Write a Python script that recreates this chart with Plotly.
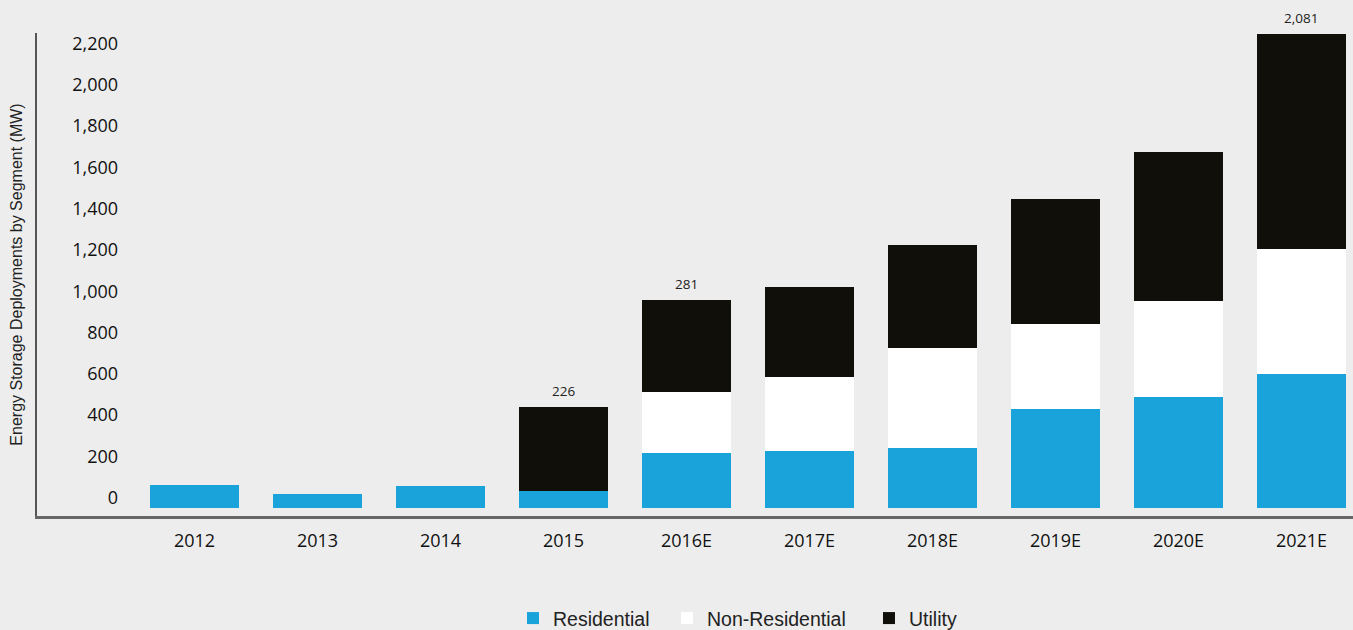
import plotly.graph_objects as go

years = ["2012", "2013", "2014", "2015", "2016E", "2017E", "2018E", "2019E", "2020E", "2021E"]
residential = [110, 65, 103, 79, 263, 273, 288, 477, 535, 646]
non_residential = [0, 0, 0, 0, 296, 359, 485, 412, 466, 607]
utility = [0, 0, 0, 409, 446, 436, 499, 606, 722, 1042]
label_years = ["2015", "2016E", "2021E"]
label_texts = ["226", "281", "2,081"]
y_ticks = list(range(0, 2201, 200))
y_tick_text = [f"{v:,}" for v in y_ticks]

BLUE = "#19a3da"
WHITE = "#ffffff"
BLACK = "#110f0a"
BG = "#ededed"

fig = go.Figure()
fig.add_trace(go.Bar(name="Residential", x=years, y=residential, marker_color=BLUE,
                     marker_line_width=0, legend="legend"))
fig.add_trace(go.Bar(name="Non-Residential", x=years, y=non_residential, marker_color=WHITE,
                     marker_line_width=0, legend="legend2"))
fig.add_trace(go.Bar(name="Utility", x=years, y=utility, marker_color=BLACK,
                     marker_line_width=0, legend="legend3"))
# invisible carrier so the tick-label axis (yaxis2) is rendered
fig.add_trace(go.Scatter(x=[years[0]], y=[0], yaxis="y2", mode="markers", marker_opacity=0,
                         showlegend=False, hoverinfo="skip"))

totals = [r + n + u for r, n, u in zip(residential, non_residential, utility)]
for yr, txt in zip(label_years, label_texts):
    i = years.index(yr)
    fig.add_annotation(x=i, y=totals[i], text=txt, showarrow=False, yanchor="middle",
                       yshift=16, font=dict(family="Open Sans", size=13.5, color="#222"))

legend_font = dict(family="Liberation Sans", size=19.5, color="#222")
plot_left, plot_w = 37, 1316


def legend_at(px):
    return dict(orientation="h", x=(px - plot_left) / plot_w, xanchor="left", y=-0.212,
                yanchor="middle", font=legend_font, bgcolor="rgba(0,0,0,0)")


fig.update_layout(
    barmode="stack",
    bargap=0.276,
    width=1353, height=630,
    margin=dict(l=37, r=0, t=33, b=114, autoexpand=False),
    paper_bgcolor=BG, plot_bgcolor=BG,
    showlegend=True,
    legend=legend_at(513),
    legend2=legend_at(667),
    legend3=legend_at(869),
    xaxis=dict(type="category", range=[-1.2805, 9.419], showgrid=False, zeroline=False,
               showline=True, linecolor="#666", linewidth=2.5, ticks="", ticklabelstandoff=7,
               tickfont=dict(family="Open Sans", size=18, color="#111")),
    yaxis=dict(range=[-41, 2300], showgrid=False, zeroline=False, showline=True,
               linecolor="#555", linewidth=1.5, showticklabels=False, ticks="",
               title=dict(text="Energy Storage Deployments by Segment (MW)", standoff=9,
                          font=dict(family="Liberation Sans", size=16, color="#222")),
               automargin=False),
    yaxis2=dict(range=[-41, 2300], overlaying="y", anchor="free", position=0.0616, side="left",
                showgrid=False, zeroline=False, showline=False, ticks="",
                tickvals=y_ticks, ticktext=y_tick_text, ticklabelshift=-10,
                tickfont=dict(family="Open Sans", size=18, color="#111"), automargin=False),
    hovermode=False,
)

fig.write_html("out.html")
